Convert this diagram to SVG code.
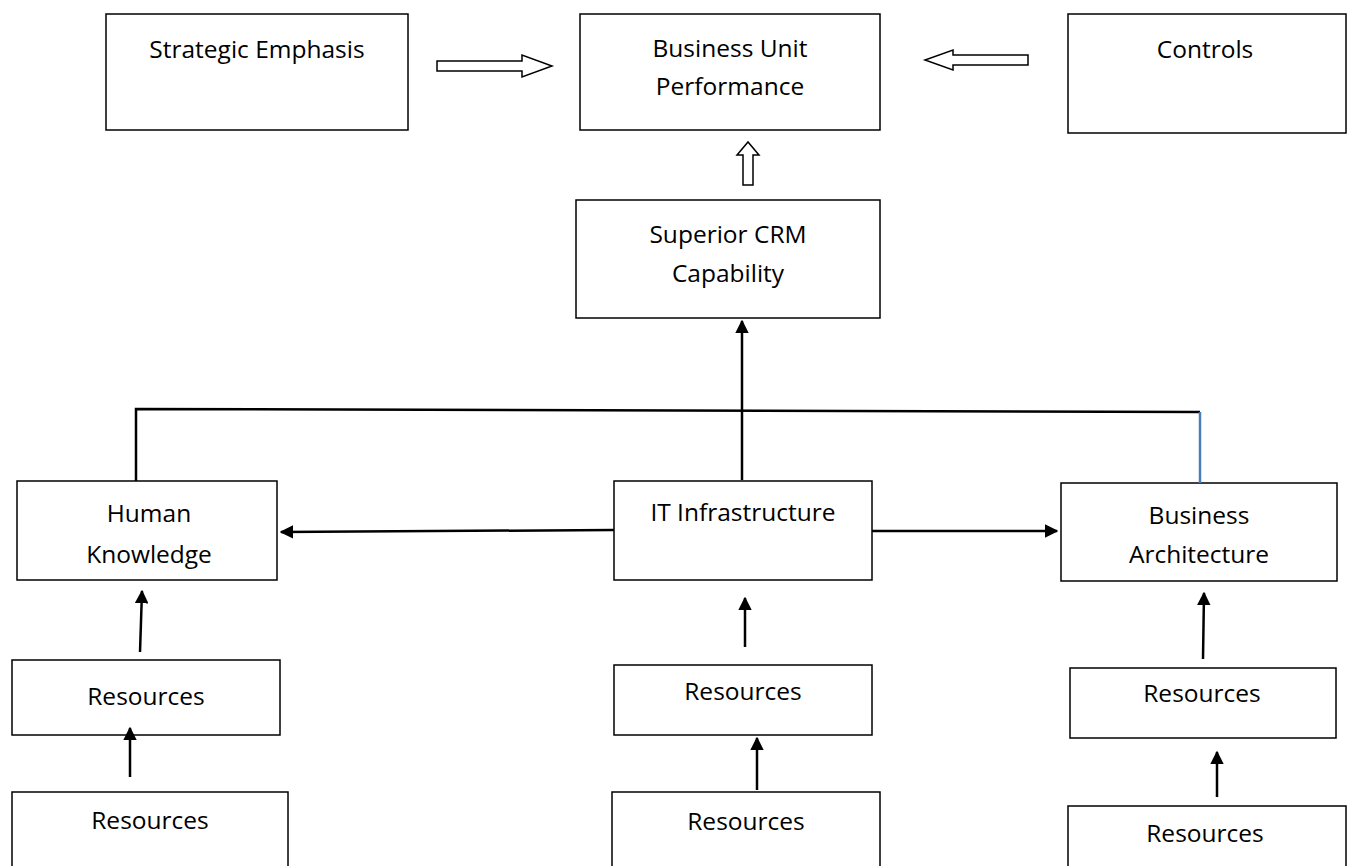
<svg xmlns="http://www.w3.org/2000/svg" width="1360" height="866" viewBox="0 0 1360 866">
  <defs>
    <marker id="arrow" viewBox="0 0 10 10" refX="9" refY="5" markerWidth="5.5" markerHeight="5.5" orient="auto" markerUnits="strokeWidth">
      <path d="M0,0 L10,5 L0,10 Z" fill="#000"/>
    </marker>
    <style>
      .box { fill: #fff; stroke: #000; stroke-width: 1.5; }
      .lbl { font-family: "Open Sans", "Liberation Sans", Arial, sans-serif; font-size: 24.5px; fill: #000; text-anchor: middle; }
      .line { fill: none; stroke: #000; stroke-width: 2.5; }
      .arr { fill: none; stroke: #000; stroke-width: 2.5; marker-end: url(#arrow); }
      .hollow { fill: #fff; stroke: #000; stroke-width: 1.5; stroke-linejoin: miter; }
    </style>
  </defs>
  <rect width="1360" height="866" fill="#fff"/>

  <g id="strategic-emphasis">
    <rect class="box" x="106" y="14" width="302" height="116"/>
    <text class="lbl" x="257" y="58">Strategic Emphasis</text>
  </g>
  <g id="business-unit-performance">
    <rect class="box" x="580" y="14" width="300" height="116"/>
    <text class="lbl" x="730" y="57">Business Unit</text>
    <text class="lbl" x="730" y="95">Performance</text>
  </g>
  <g id="controls">
    <rect class="box" x="1068" y="14" width="278" height="119"/>
    <text class="lbl" x="1205" y="58">Controls</text>
  </g>
  <g id="superior-crm">
    <rect class="box" x="576" y="200" width="304" height="118"/>
    <text class="lbl" x="728" y="243">Superior CRM</text>
    <text class="lbl" x="728" y="282">Capability</text>
  </g>
  <g id="human-knowledge">
    <rect class="box" x="17" y="481" width="260" height="99"/>
    <text class="lbl" x="149" y="522">Human</text>
    <text class="lbl" x="149" y="563">Knowledge</text>
  </g>
  <g id="it-infrastructure">
    <rect class="box" x="614" y="481" width="258" height="99"/>
    <text class="lbl" x="743" y="521">IT Infrastructure</text>
  </g>
  <g id="business-architecture">
    <rect class="box" x="1061" y="483" width="276" height="98"/>
    <text class="lbl" x="1199" y="524">Business</text>
    <text class="lbl" x="1199" y="563">Architecture</text>
  </g>
  <g id="hk-resources-1">
    <rect class="box" x="12" y="660" width="268" height="75"/>
    <text class="lbl" x="146" y="705">Resources</text>
  </g>
  <g id="hk-resources-2">
    <rect class="box" x="12" y="792" width="276" height="80"/>
    <text class="lbl" x="150" y="829">Resources</text>
  </g>
  <g id="it-resources-1">
    <rect class="box" x="614" y="665" width="258" height="70"/>
    <text class="lbl" x="743" y="700">Resources</text>
  </g>
  <g id="it-resources-2">
    <rect class="box" x="612" y="792" width="268" height="80"/>
    <text class="lbl" x="746" y="830">Resources</text>
  </g>
  <g id="ba-resources-1">
    <rect class="box" x="1070" y="668" width="266" height="70"/>
    <text class="lbl" x="1202" y="702">Resources</text>
  </g>
  <g id="ba-resources-2">
    <rect class="box" x="1068" y="806" width="278" height="70"/>
    <text class="lbl" x="1205" y="842">Resources</text>
  </g>

  <g id="connectors">
    <!-- block arrows into the performance box -->
    <path class="hollow" d="M437,61 L522,61 L522,55 L552,66 L522,77 L522,71 L437,71 Z"/>
    <path class="hollow" d="M1028,55 L953,55 L953,50 L925,60 L953,70 L953,65 L1028,65 Z"/>
    <path class="hollow" d="M743,185 L743,155 L737,155 L748,142 L759,155 L753,155 L753,185 Z"/>

    <!-- capability feed -->
    <line class="arr" x1="742" y1="480" x2="742" y2="321"/>
    <polyline class="line" points="136,481 136,409 1200,412"/>
    <line x1="1200" y1="412" x2="1200" y2="483" stroke="#4a7ebb" stroke-width="2.5"/>

    <!-- IT infrastructure to neighbours -->
    <line class="arr" x1="614" y1="530" x2="281" y2="532"/>
    <line class="arr" x1="872" y1="531" x2="1057" y2="531"/>

    <!-- resource chains -->
    <line class="arr" x1="140" y1="652" x2="142" y2="591"/>
    <line class="arr" x1="130" y1="777" x2="130" y2="728"/>
    <line class="arr" x1="745" y1="647" x2="745" y2="598"/>
    <line class="arr" x1="757" y1="790" x2="757" y2="738"/>
    <line class="arr" x1="1203" y1="659" x2="1204" y2="593"/>
    <line class="arr" x1="1217" y1="797" x2="1217" y2="752"/>
  </g>
</svg>
